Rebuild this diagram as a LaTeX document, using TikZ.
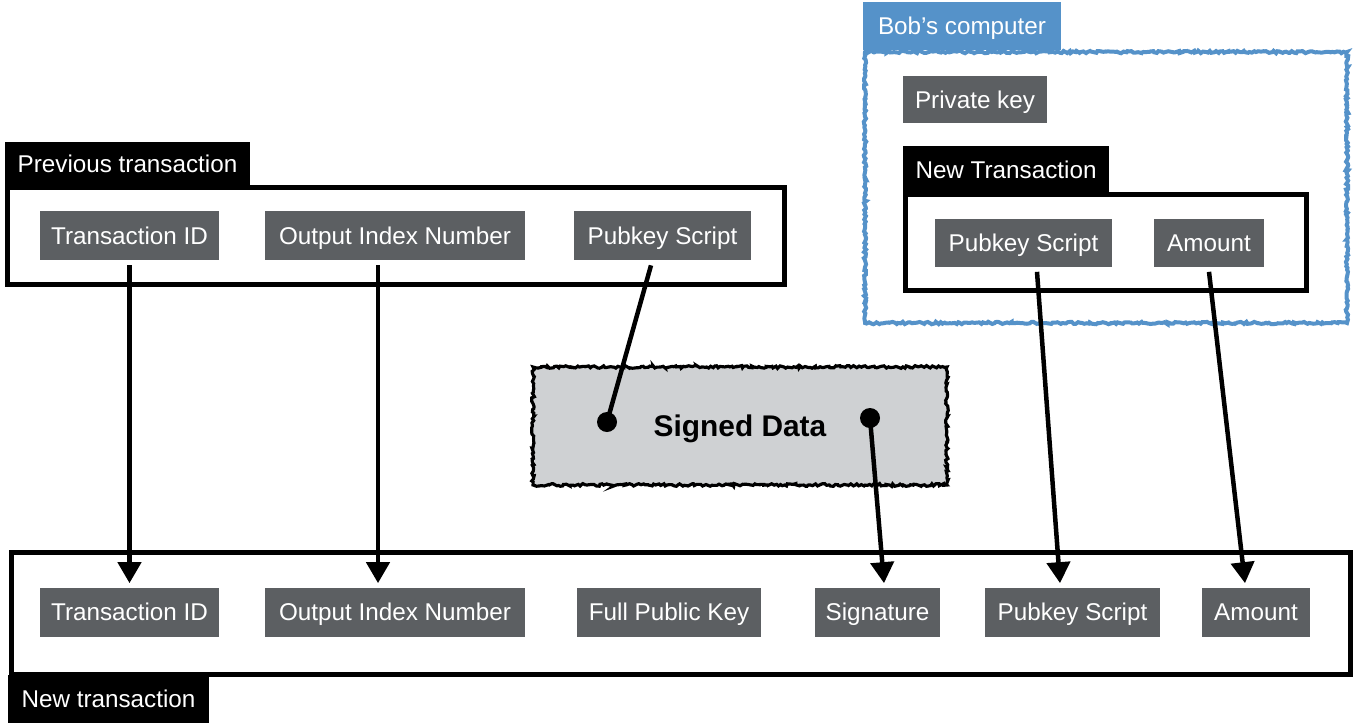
\documentclass[tikz,border=0pt]{standalone}
\usepackage{fontspec}
\setmainfont{Liberation Sans}
\usetikzlibrary{arrows.meta,decorations.pathmorphing}
\definecolor{fieldgray}{HTML}{5C5F62}
\definecolor{signgray}{HTML}{CFD1D3}
\definecolor{bobblue}{HTML}{5592C9}

\begin{document}
\begin{tikzpicture}[x=0.02cm, y=-0.02cm,
  every node/.style={font=\fontsize{13.8}{16}\selectfont},
  field/.style={fill=fieldgray, text=white, minimum height=0.98cm, inner sep=0pt,
    text height=9.9pt, text depth=0pt},
  tab/.style={fill=black, text=white, minimum height=0.96cm, inner sep=0pt,
    text height=9.9pt, text depth=0pt},
  frame/.style={draw=black, line width=0.1cm},
  rough/.style={decorate, decoration={random steps, segment length=1.2pt, amplitude=0.7pt}},
  link/.style={line width=0.09cm},
  arrow/.style={link, -{Triangle[length=0.42cm, width=0.46cm]}},
  dot/.style={circle, fill=black, inner sep=0pt, minimum size=0.4cm}]

\useasboundingbox (0,0) rectangle (1358,725);

\draw[frame] (7.5,187.5) rectangle (784,284.5);
\draw[frame] (11.5,552) rectangle (1350,674);
\draw[bobblue, line width=0.08cm, rough] (865,52) rectangle (1347,323);
\draw[frame] (905.5,194.5) rectangle (1306.5,290.5);

\node(plabel)[tab, minimum width=4.9cm, minimum height=0.88cm] at (127.5,164) {Previous transaction};
\node(nlabel)[tab, minimum width=4.02cm] at (108.5,699) {New transaction};
\node(blabel)[tab, fill=bobblue, minimum width=3.96cm] at (962,26) {Bob’s computer};
\node(btlabel)[tab, minimum width=4.12cm] at (1006,170) {New Transaction};

\node(ptid)[field, minimum width=3.58cm] at (129.5,235.5) {Transaction ID};
\node(pout)[field, minimum width=5.2cm] at (395,235.5) {Output Index Number};
\node(ppub)[field, minimum width=3.54cm] at (662.5,235.5) {Pubkey Script};

\node(bpriv)[field, minimum width=2.88cm, minimum height=0.94cm] at (975,99.5) {Private key};
\node(bpub)[field, minimum width=3.54cm, minimum height=0.96cm] at (1023.5,242.5) {Pubkey Script};
\node(bamt)[field, minimum width=2.2cm, minimum height=0.96cm] at (1209,242.5) {Amount};

\node(ntid)[field, minimum width=3.58cm] at (129.5,612) {Transaction ID};
\node(nout)[field, minimum width=5.2cm] at (395,612) {Output Index Number};
\node(nfull)[field, minimum width=3.68cm] at (669,612) {Full Public Key};
\node(nsig)[field, minimum width=2.5cm] at (877.5,612) {Signature};
\node(npub)[field, minimum width=3.5cm] at (1072.5,612) {Pubkey Script};
\node(namt)[field, minimum width=2.16cm] at (1256,612) {Amount};

\node(sd)[fill=signgray, draw=black, line width=1.8pt,
  decorate, decoration={random steps, segment length=1.2pt, amplitude=0.8pt},
  minimum width=8.28cm, minimum height=2.36cm, text height=12.2pt, text depth=0pt,
  font=\bfseries\fontsize{17}{20}\selectfont] at (740,426) {Signed Data};

\node(dotl)[dot] at (607,422) {};
\node(dotr)[dot] at (870,418) {};

\draw[arrow, shorten <=0.1cm, shorten >=0.08cm] (ptid) -- (ntid);
\draw[arrow] ([xshift=-0.34cm, yshift=-0.1cm]pout.south) -- ([xshift=-0.34cm, yshift=0.08cm]nout.north);
\draw[link] ([xshift=-0.23cm, yshift=-0.1cm]ppub.south) -- (dotl.center);
\draw[arrow] (dotr.center) -- ([xshift=0.13cm, yshift=0.08cm]nsig.north);
\draw[arrow] ([xshift=0.27cm, yshift=-0.1cm]bpub.south) -- ([xshift=-0.25cm, yshift=0.08cm]npub.north);
\draw[arrow] ([yshift=-0.1cm]bamt.south) -- ([xshift=-0.22cm, yshift=0.08cm]namt.north);

\end{tikzpicture}
\end{document}
